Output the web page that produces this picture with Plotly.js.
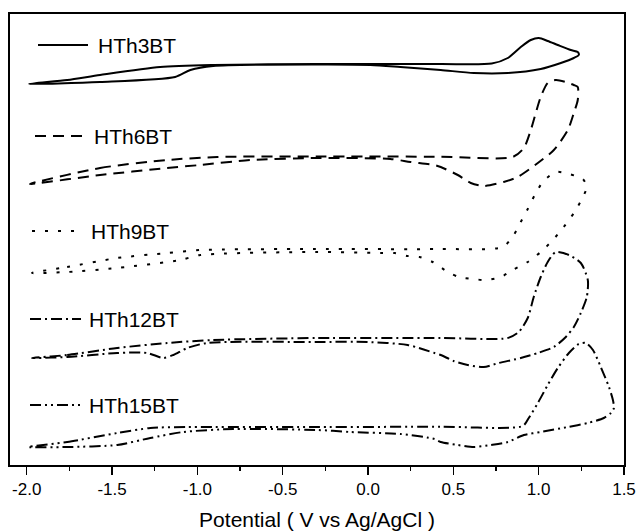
<!DOCTYPE html>
<html>
<head>
<meta charset="utf-8">
<script src="https://cdn.plot.ly/plotly-3.0.1.min.js"></script>
<style>html,body{margin:0;padding:0;background:#fff;}#chart{width:637px;height:532px;}</style>
</head>
<body>
<div id="chart"></div>
<script>
// Potential (V vs Ag/AgCl) and current (arbitrary units, curves stacked with offsets)
const names = ["HTh3BT", "HTh6BT", "HTh9BT", "HTh12BT", "HTh15BT"];

const v3 = [-1.987,-1.763,-1.570,-1.218,-0.907,-0.296,0.426,0.725,0.819,0.895,0.954,1.001,1.053,1.112,1.188,1.229,1.235,1.206,1.130,1.012,0.819,0.620,0.426,0.190,0.014,-0.296,-0.907,-1.041,-1.130,-1.570,-1.987];
const i3 = [381,385,390,398,400,401,401,401.5,407,418,425,427,424,420,415,413,410,407,402,396,392,392,395,398,400,400.5,399,395,388,383,381];

const v6 = [-1.981,-1.570,-1.177,-0.883,-0.296,0.426,0.848,0.913,0.954,0.983,1.012,1.053,1.100,1.159,1.206,1.229,1.229,1.206,1.171,1.089,0.995,0.877,0.795,0.678,0.602,0.526,0.426,0.390,0.249,0.131,-0.296,-0.689,-0.983,-1.177,-1.570,-1.981];
const i6 = [281,297,305,308,308.5,308.3,308,317,335,352,368,382,385,383,380,378,365,352,335,315,302,288,283,279,282,290,298,300,303,306,307,305,300,297,290,281];

const v9 = [-1.969,-1.763,-1.470,-1.177,-0.983,-0.320,0.426,0.789,0.854,0.895,0.936,0.977,1.024,1.100,1.177,1.259,1.282,1.247,1.206,1.147,1.083,1.012,0.936,0.848,0.778,0.690,0.614,0.532,0.467,0.379,0.302,0.232,0.155,0.073,-0.296,-0.983,-1.100,-1.470,-1.763,-1.969];
const i9 = [192,198,207,212,215,216,216,218,230,243,256,270,283,293,291,286,278,264,252,238,225,213,203,195,188,185,186,188,193,203,208,209,212,212,213,210,205,197,193,192];

const v12 = [-1.969,-1.763,-1.470,-1.177,-0.907,-0.296,0.426,0.819,0.883,0.936,0.971,1.012,1.053,1.100,1.177,1.247,1.288,1.282,1.247,1.206,1.159,1.089,0.995,0.895,0.766,0.678,0.584,0.502,0.426,0.390,0.232,-0.003,-0.296,-0.942,-1.059,-1.141,-1.200,-1.294,-1.470,-1.763,-1.969];
const i12 = [107,110,117,122,125,127,127,127,133,147,168,188,203,213,210,202,185,168,152,138,128,118,112,107,102,98,100,104,110,112,120,123,123,122,117,110,107,112,112,108,107];

const v15 = [-1.992,-1.763,-1.470,-1.276,-1.059,-0.320,0.426,0.907,0.942,0.995,1.053,1.112,1.177,1.235,1.276,1.318,1.364,1.412,1.435,1.441,1.423,1.382,1.288,1.171,1.012,0.913,0.819,0.719,0.620,0.526,0.426,0.390,0.190,-0.103,-0.296,-0.789,-1.083,-1.276,-1.470,-1.763,-1.992];
const i15 = [18,23,32,37,38,38,38.3,39,47,62,80,97,112,121,122,115,98,78,65,57,52,47,42,38,33,30,23,20,18,20,23,26,31,33,35,36,33,27,20,18,18];

const xTickVals = [-2.0,-1.5,-1.0,-0.5,0.0,0.5,1.0,1.5];
const xTickText = ["-2.0","-1.5","-1.0","-0.5","0.0","0.5","1.0","1.5"];

const dashes = ["solid", "11px,7px", "3px,10px", "11px,4px,2px,4px", "11px,4px,2px,4px,2px,4px"];
const xs = [v3, v6, v9, v12, v15];
const ys = [i3, i6, i9, i12, i15];

const traces = names.map((n, k) => ({
  x: xs[k], y: ys[k], name: n, type: "scatter", mode: "lines",
  line: {color: "#000", width: 2, dash: dashes[k], shape: "spline", smoothing: 0.7},
  showlegend: false, hoverinfo: "skip"
}));

// legend-like labels (pixel positions inside the 637x532 figure)
const W = 637, H = 532, L = 10, R = 624, T = 14, B = 465;
const px = p => (p - L) / (R - L);
const py = p => (B - p) / (B - T);
const labelPos = [
  {x0: 38, x1: 88, y: 45, tx: 96},
  {x0: 35, x1: 87, y: 136, tx: 92},
  {x0: 32, x1: 76, y: 231, tx: 89},
  {x0: 30, x1: 81, y: 319, tx: 87},
  {x0: 30, x1: 82, y: 405, tx: 87}
];
const shapes = labelPos.map((p, k) => ({
  type: "line", xref: "paper", yref: "paper",
  x0: px(p.x0), x1: px(p.x1), y0: py(p.y), y1: py(p.y),
  line: {color: "#000", width: 2, dash: dashes[k]}
}));
const annotations = labelPos.map((p, k) => ({
  xref: "paper", yref: "paper", x: px(p.tx), y: py(p.y),
  xanchor: "left", yanchor: "middle", showarrow: false,
  text: names[k], font: {family: "Liberation Sans, Arial, sans-serif", size: 21, color: "#000"}
}));

const layout = {
  width: W, height: H,
  margin: {l: L, r: W - R, t: T, b: H - B},
  paper_bgcolor: "#fff", plot_bgcolor: "#fff",
  font: {family: "Liberation Sans, Arial, sans-serif", color: "#000"},
  xaxis: {
    range: [-2.098, 1.5], showgrid: false, zeroline: false,
    showline: true, mirror: true, linecolor: "#000", linewidth: 2,
    ticks: "outside", ticklen: 8, tickwidth: 1.5, tickcolor: "#000",
    tickvals: xTickVals, ticktext: xTickText,
    tickfont: {size: 17, color: "#000"},
    minor: {ticks: "outside", ticklen: 4, tickwidth: 1.5, tickcolor: "#000", dtick: 0.25, tick0: 0, showgrid: false},
    title: {text: "Potential ( V vs Ag/AgCl )", font: {size: 21, color: "#000"}, standoff: 14}
  },
  yaxis: {
    range: [0, 451], showgrid: false, zeroline: false,
    showline: true, mirror: true, linecolor: "#000", linewidth: 2,
    ticks: "", showticklabels: false
  },
  shapes: shapes,
  annotations: annotations
};

Plotly.newPlot("chart", traces, layout, {displayModeBar: false, staticPlot: true});
</script>
</body>
</html>
